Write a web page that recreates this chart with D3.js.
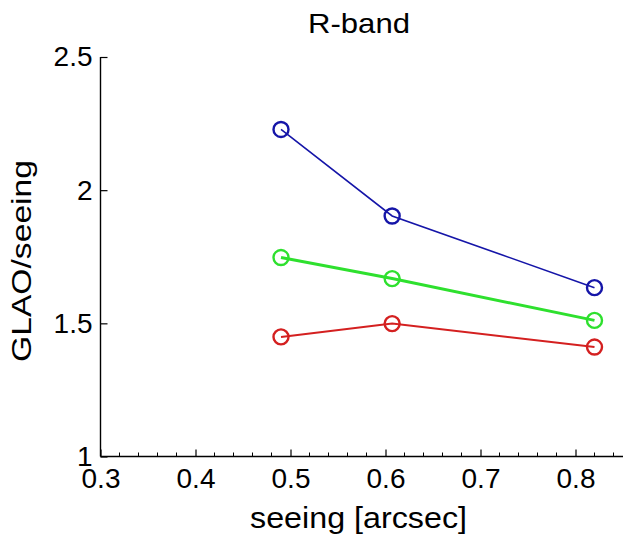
<!DOCTYPE html>
<html>
<head>
<meta charset="utf-8">
<script src="https://cdn.jsdelivr.net/npm/d3@7"></script>
<style>
  html, body { margin: 0; padding: 0; background: #fff; }
  text { font-family: "Liberation Sans", Arial, sans-serif; fill: #000; }
</style>
</head>
<body>
<svg id="chart" width="623" height="537"></svg>
<script>
const seeing = [0.49, 0.607, 0.82];
const blueValues = [2.228, 1.903, 1.634];
const greenValues = [1.747, 1.668, 1.511];
const redValues = [1.449, 1.499, 1.411];
const xTickLabels = [0.3, 0.4, 0.5, 0.6, 0.7, 0.8];
const yTickLabels = [1, 1.5, 2, 2.5];
const titleText = "R-band";
const xLabelText = "seeing [arcsec]";
const yLabelText = "GLAO/seeing";

const series = [
  { values: blueValues, color: "#1515a8", width: 1.6 },
  { values: greenValues, color: "#2ee02e", width: 3 },
  { values: redValues, color: "#d42020", width: 2 }
];

const svg = d3.select("#chart");
const x = d3.scaleLinear().domain([0.3, 0.85]).range([100.5, 623]);
const y = d3.scaleLinear().domain([1, 2.5]).range([456.5, 57]);

// X axis: minor ticks
const minorX = d3.range(0.32, 0.85, 0.02).filter(v => Math.abs(Math.round(v * 10) - v * 10) > 1e-6);
svg.append("g").selectAll("line").data(minorX).join("line")
  .attr("x1", d => x(d)).attr("x2", d => x(d))
  .attr("y1", y(1)).attr("y2", y(1) - 4)
  .attr("stroke", "#000").attr("stroke-width", 1);

const xAxis = d3.axisBottom(x).tickValues(xTickLabels).tickSize(-7).tickPadding(12)
  .tickFormat(d3.format(".1f"));
const gx = svg.append("g").attr("transform", `translate(0,${y(1)})`).call(xAxis);
gx.select(".domain").attr("stroke", "#000").attr("stroke-width", 1.4).attr("d", `M${x(0.3)},0H${x(0.85)}`);
gx.selectAll(".tick line").attr("stroke", "#000").attr("stroke-width", 1.2);
gx.selectAll(".tick text").attr("font-size", 28).attr("dy", "0.71em")
  .attr("font-family", "Liberation Sans, Arial, sans-serif").attr("fill", "#000");

const yAxis = d3.axisLeft(y).tickValues(yTickLabels).tickSize(-7).tickPadding(8)
  .tickFormat(d => d3.format("")(d));
const gy = svg.append("g").attr("transform", `translate(${x(0.3)},0)`).call(yAxis);
gy.select(".domain").attr("stroke", "#000").attr("stroke-width", 1.4).attr("d", `M0,${y(1)}V${y(2.5)}`);
gy.selectAll(".tick line").attr("stroke", "#000").attr("stroke-width", 1.2);
gy.selectAll(".tick text").attr("font-size", 28)
  .attr("font-family", "Liberation Sans, Arial, sans-serif").attr("fill", "#000");

// Lines and markers
const line = d3.line().x((d, i) => x(seeing[i])).y(d => y(d));
series.forEach(s => {
  svg.append("path").datum(s.values).attr("d", line)
    .attr("fill", "none").attr("stroke", s.color).attr("stroke-width", s.width);
  svg.append("g").selectAll("circle").data(s.values).join("circle")
    .attr("cx", (d, i) => x(seeing[i])).attr("cy", d => y(d)).attr("r", 7.5)
    .attr("fill", "none").attr("stroke", s.color).attr("stroke-width", 2.4);
});

// Title and labels
svg.append("text").attr("x", 359).attr("y", 33).attr("text-anchor", "middle")
  .attr("font-size", 28).attr("textLength", 102).attr("lengthAdjust", "spacingAndGlyphs")
  .text(titleText);
svg.append("text").attr("x", 358.5).attr("y", 528).attr("text-anchor", "middle")
  .attr("font-size", 30).attr("textLength", 217).attr("lengthAdjust", "spacingAndGlyphs")
  .text(xLabelText);
svg.append("text").attr("transform", "translate(31,261) rotate(-90)").attr("text-anchor", "middle")
  .attr("font-size", 27).attr("textLength", 202).attr("lengthAdjust", "spacingAndGlyphs")
  .text(yLabelText);
</script>
</body>
</html>
